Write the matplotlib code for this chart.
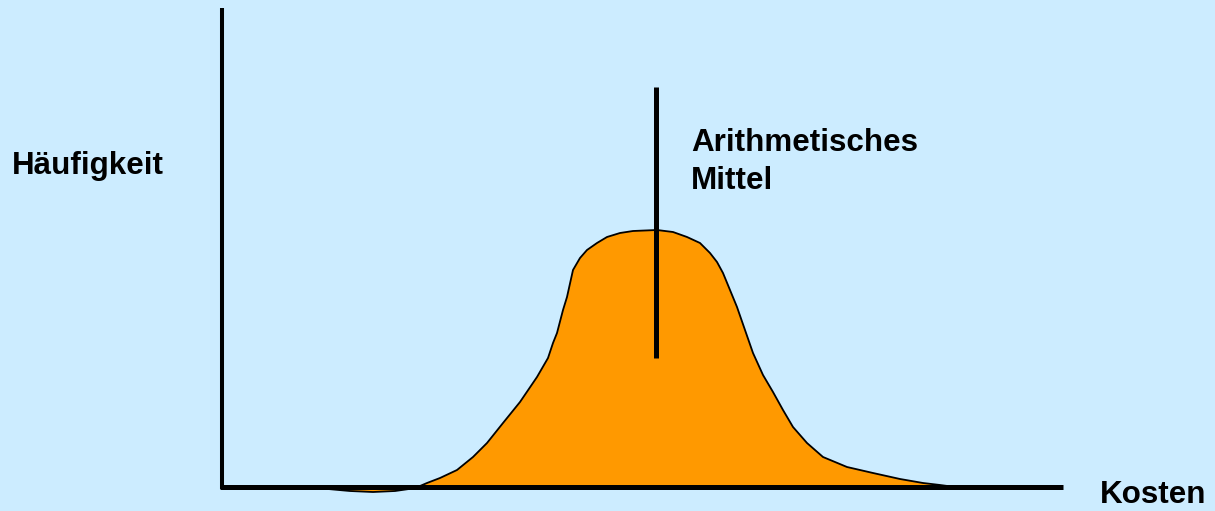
import matplotlib.pyplot as plt

# Werte (Nullpunkt = Achsenursprung)
kosten = [106, 128, 151, 173, 187, 198, 205, 218, 235, 251, 265, 281, 298, 315,
          326, 331, 335, 341, 345, 351, 358, 365, 375, 385, 398, 411, 435, 451,
          465, 478, 488, 495, 501, 508, 515, 523, 531, 541, 551, 561, 571, 585,
          601, 625, 651, 678, 701, 718, 733, 743]
haeufigkeit = [-2, -4, -5, -4, -2, 1, 4, 9, 17, 30, 44, 64, 85, 110, 129, 144,
               154, 177, 190, 217, 229, 237, 244, 250, 254, 256, 257, 255, 250,
               244, 234, 225, 214, 197, 180, 157, 134, 112, 95, 77, 60, 44, 30,
               20, 14, 8, 4, 2, 0, -1]
mittel_x = 434
mittel_y = [129, 400]

bg = '#CCECFF'
orange = '#FF9900'

plt.rcParams['font.family'] = ['Liberation Sans', 'DejaVu Sans']

fig = plt.figure(figsize=(12.15, 5.11), dpi=100)
fig.patch.set_facecolor(bg)
ax = fig.add_axes([0, 0, 1, 1])
ax.set_facecolor(bg)
ax.set_xlim(-222, 993)
ax.set_ylim(-24, 487)

ax.fill(kosten, haeufigkeit, facecolor=orange, edgecolor='black', linewidth=1.3,
        joinstyle='round', zorder=2)
ax.plot([mittel_x, mittel_x], mittel_y, color='black', linewidth=3.6,
        solid_capstyle='butt', zorder=3)

# Achsen
ax.plot([-2, 841], [0, 0], color='black', linewidth=3.6, solid_capstyle='butt', zorder=4)
ax.plot([0, 0], [-2, 479], color='black', linewidth=2.9, solid_capstyle='butt', zorder=4)
for s in ax.spines.values():
    s.set_visible(False)
ax.set_xticks([])
ax.set_yticks([])

fs = 22.6
ax.text(-210, 313, 'Häufigkeit', fontsize=fs, fontweight='bold', va='baseline', ha='left')
ax.text(469, 336, 'Arithmetisches', fontsize=fs, fontweight='bold', va='baseline', ha='left')
ax.text(469, 298, 'Mittel', fontsize=fs, fontweight='bold', va='baseline', ha='left')
ax.text(878, -16, 'Kosten', fontsize=fs, fontweight='bold', va='baseline', ha='left')

fig.savefig('out.png', dpi=100, facecolor=bg)
